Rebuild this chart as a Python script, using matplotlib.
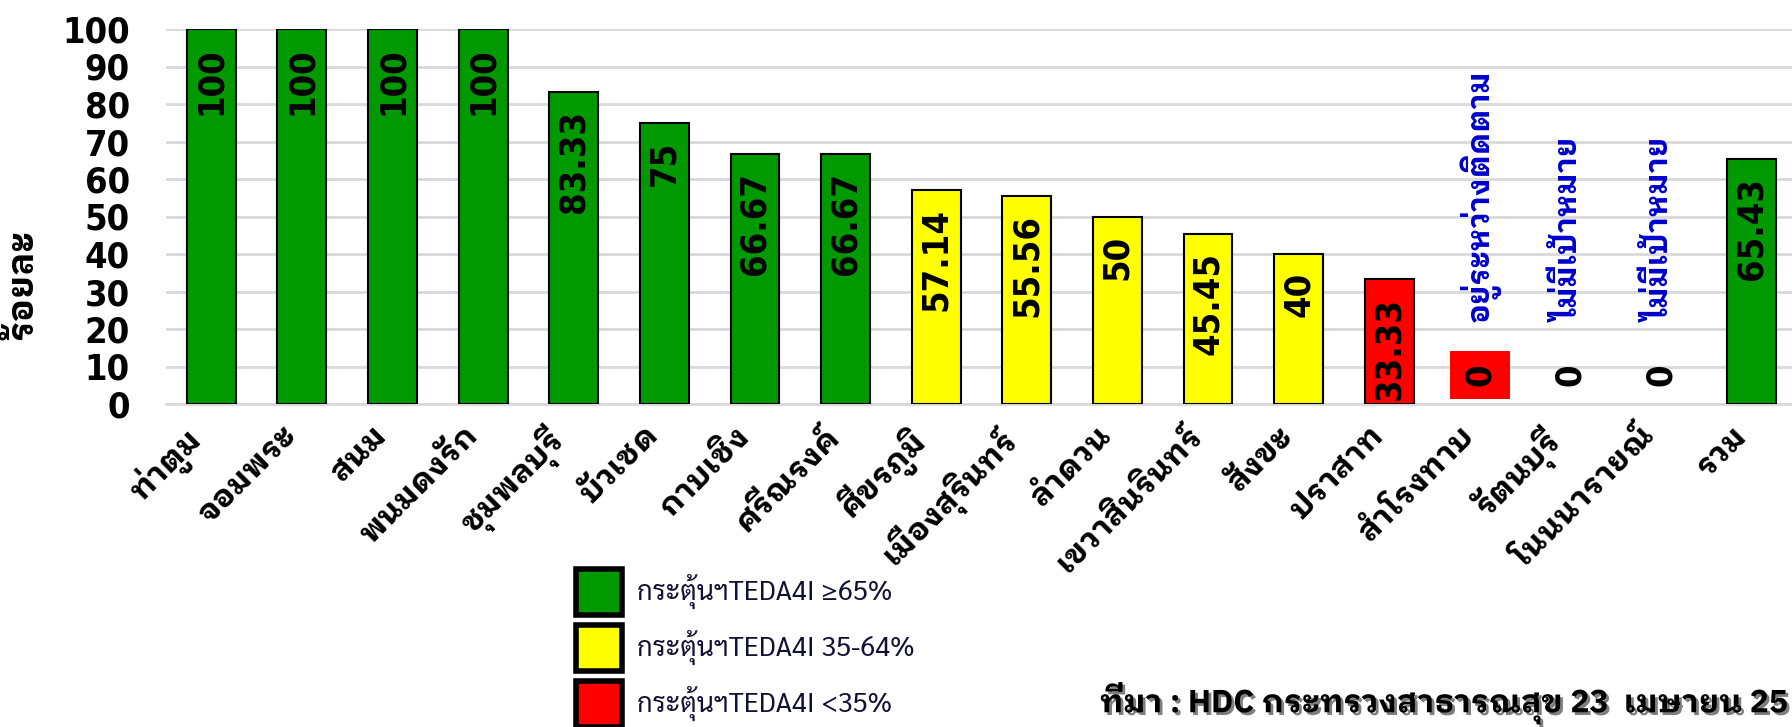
import matplotlib
matplotlib.use('Agg')
import matplotlib.pyplot as plt
import matplotlib.patheffects as pe
from matplotlib.patches import Rectangle

# data
districts = ['ท่าตูม', 'จอมพระ', 'สนม', 'พนมดงรัก', 'ชุมพลบุรี', 'บัวเชด', 'กาบเชิง',
             'ศรีณรงค์', 'ศีขรภูมิ', 'เมืองสุรินทร์', 'ลำดวน', 'เขวาสินรินทร์', 'สังขะ',
             'ปราสาท', 'สำโรงทาบ', 'รัตนบุรี', 'โนนนารายณ์', 'รวม']
percent = [100, 100, 100, 100, 83.33, 75, 66.67, 66.67, 57.14, 55.56, 50, 45.45, 40,
           33.33, 0, 0, 0, 65.43]
value_text = ['100', '100', '100', '100', '83.33', '75', '66.67', '66.67', '57.14', '55.56',
              '50', '45.45', '40', '33.33', '0', '0', '0', '65.43']
notes = {14: 'อยู่ระหว่างติดตาม', 15: 'ไม่มีเป้าหมาย', 16: 'ไม่มีเป้าหมาย'}
legend_labels = ['กระตุ้นฯTEDA4I ≥65%', 'กระตุ้นฯTEDA4I 35-64%', 'กระตุ้นฯTEDA4I <35%']
legend_colors = ['#009900', '#FFFF00', '#FF0000']
source_text = 'ที่มา : HDC กระทรวงสาธารณสุข 23  เมษายน 25'


def level_color(v):
    if v >= 65:
        return legend_colors[0]
    if v >= 35:
        return legend_colors[1]
    return legend_colors[2]


colors = [level_color(v) for v in percent]
thai = ['IBM Plex Sans Thai Looped', 'DejaVu Sans']

W, H = 1792, 727
fig = plt.figure(figsize=(W / 100, H / 100), dpi=100)
ax = fig.add_axes([166 / W, 1 - 404 / H, (1797 - 166) / W, (404 - 29) / H])

x = list(range(len(districts)))
bars = ax.bar(x, percent, width=0.54, color=colors, edgecolor='black', linewidth=1.5, zorder=3)
# zero bars are not drawn
for b, v in zip(bars, percent):
    if v == 0:
        b.set_visible(False)

ax.set_xlim(-0.5, len(districts) - 0.5)
ax.set_ylim(0, 100)
ax.set_yticks(range(0, 101, 10))
ax.grid(axis='y', color='#D9D9D9', linewidth=2, zorder=0)
for s in ['top', 'right', 'left']:
    ax.spines[s].set_visible(False)
ax.spines['bottom'].set_color('#D9D9D9')
ax.spines['bottom'].set_linewidth(2)
ax.tick_params(axis='y', length=0, pad=26)
ax.tick_params(axis='x', length=0, pad=12)
for t in ax.get_yticklabels():
    t.set_fontfamily('DejaVu Sans')
    t.set_fontstretch('condensed')
    t.set_fontweight('heavy')
    t.set_fontsize(26)

ax.set_xticks(x)
ax.set_xticklabels(districts, rotation=45, ha='right', va='top',
                   fontsize=23, fontweight='bold', family=thai)

fig.text(22 / W, 1 - 284 / H, 'ร้อยละ', rotation=90, ha='center', va='center',
         fontsize=26, fontweight='bold', family=thai)

# value labels
for i, (v, s) in enumerate(zip(percent, value_text)):
    if v > 0:
        ax.annotate(s, (i, v), xytext=(0, -13), textcoords='offset points',
                    rotation=90, ha='center', va='top', fontsize=26,
                    fontweight='bold', fontstretch='condensed', family='DejaVu Sans', zorder=4)
    else:
        box = dict(boxstyle='square,pad=0.35', fc='#FF0000', ec='none') if i == 14 else None
        ax.annotate(s, (i, 0), xytext=(0, 13), textcoords='offset points',
                    rotation=90, ha='center', va='bottom', fontsize=26,
                    fontweight='bold', fontstretch='condensed', family='DejaVu Sans',
                    bbox=box, zorder=4)

for i, s in notes.items():
    ax.text(i, 22, s, rotation=90, ha='center', va='bottom', fontsize=22,
            fontweight='bold', color='#0000CC', family=thai)

# legend
for k, (lab, c) in enumerate(zip(legend_labels, legend_colors)):
    y0 = 566 + k * 56
    fig.add_artist(Rectangle((576 / W, 1 - (y0 + 49) / H), 46 / W, 46 / H,
                             transform=fig.transFigure, facecolor=c,
                             edgecolor='black', linewidth=4))
    fig.text(637 / W, 1 - (y0 + 25) / H, lab, ha='left', va='center',
             fontsize=19.5, color='#111133', family=['Sarabun', 'DejaVu Sans'])

fig.text(1100 / W, 1 - 703 / H, source_text, ha='left', va='center', fontsize=23,
         fontweight='bold', family=thai,
         path_effects=[pe.withSimplePatchShadow(offset=(2, -2), alpha=0.5)])

fig.savefig('out.png', dpi=100)
